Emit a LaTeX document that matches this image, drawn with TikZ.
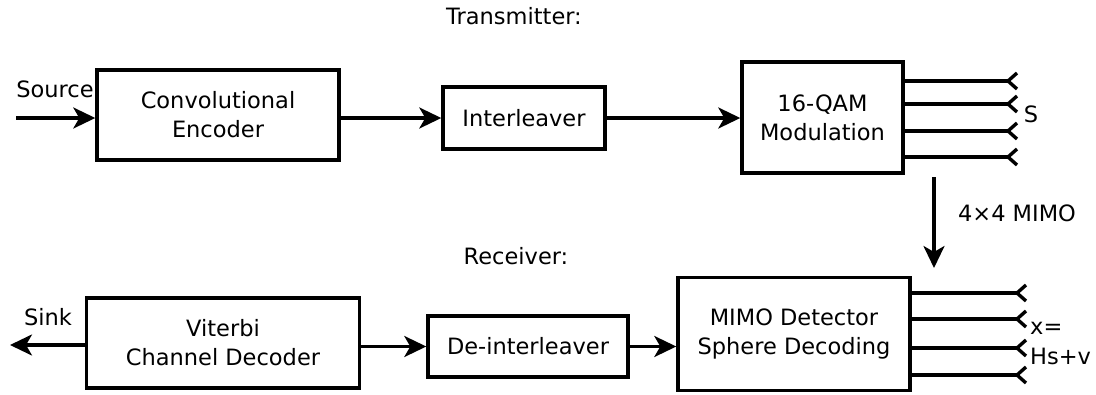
\documentclass[tikz,border=0pt]{standalone}
\usepackage{fontspec}
\setmainfont{DejaVu Sans}
\usetikzlibrary{arrows.meta}
\tikzset{
  blk/.style={draw, line width=3.4pt, inner sep=0pt, align=center, font=\fontsize{22.5}{29}\selectfont},
  lbl/.style={inner sep=0pt, font=\fontsize{22.5}{29}\selectfont},
  conn/.style={line width=3.2pt, -{Stealth[length=22pt,width=21pt,inset=6pt]}},
  wire/.style={line width=3.4pt},
  chev/.style={line width=3.4pt, line join=miter, line cap=butt}
}
\begin{document}
\begin{tikzpicture}[x=1pt,y=-1pt]
\useasboundingbox (0,0) rectangle (1096,394);
% labels
\node[lbl] (tx) at (514,16) {Transmitter:};
\node[lbl] (rx) at (516,256) {Receiver:};
\node[lbl] (src) at (55,89) {Source};
\node[lbl] (snk) at (48,317) {Sink};
% transmitter boxes
\node[blk, minimum width=242pt, minimum height=90pt] (enc) at (218,115) {Convolutional\\Encoder};
\node[blk, minimum width=162pt, minimum height=62pt] (il) at (524,118) {Interleaver};
\node[blk, minimum width=161pt, minimum height=111pt] (qam) at (822.5,117.5) {16-QAM\\Modulation};
% receiver boxes
\node[blk, minimum width=273pt, minimum height=90pt] (vit) at (223,343) {Viterbi\\Channel Decoder};
\node[blk, minimum width=200pt, minimum height=61pt] (dil) at (528,346.5) {De-interleaver};
\node[blk, minimum width=232pt, minimum height=113pt] (mimo) at (794,334) {MIMO Detector\\Sphere Decoding};
% free ends
\coordinate (srcin) at (16,118);
\coordinate (snkout) at (10,345);
\coordinate (mtop) at (934,177);
\coordinate (mbot) at (934,268);
% connectors
\draw[conn] (srcin) -- (srcin -| enc.west);
\draw[conn] (enc.east |- il.west) -- (il.west);
\draw[conn] (il.east) -- (qam.west |- il.east);
\draw[conn] (vit.west |- snkout) -- (snkout);
\draw[conn] (vit.east |- dil.west) -- (dil.west);
\draw[conn] (dil.east) -- (mimo.west |- dil.east);
\draw[conn] (mtop) -- (mbot);
\node[lbl] (mlab) at (1017,213) {4×4 MIMO};
% transmit antennas
\foreach \i/\yy in {1/81,2/104,3/131,4/157}{
  \coordinate (s\i) at (1008,\yy);
  \draw[wire] (qam.east |- s\i) -- (s\i);
  \draw[chev] (s\i) ++(9,-8) -- (s\i) -- ++(9,8);
}
\node[lbl] (slab) at (1031,114) {S};
% receive antennas
\foreach \i/\yy in {1/293,2/319,3/348,4/375}{
  \coordinate (r\i) at (1017,\yy);
  \draw[wire] (mimo.east |- r\i) -- (r\i);
  \draw[chev] (r\i) ++(9,-8) -- (r\i) -- ++(9,8);
}
\node[lbl, anchor=west] (xlab) at (1030,328) {x=};
\node[lbl, anchor=west] (hlab) at (1030,356) {Hs+v};
\end{tikzpicture}
\end{document}
